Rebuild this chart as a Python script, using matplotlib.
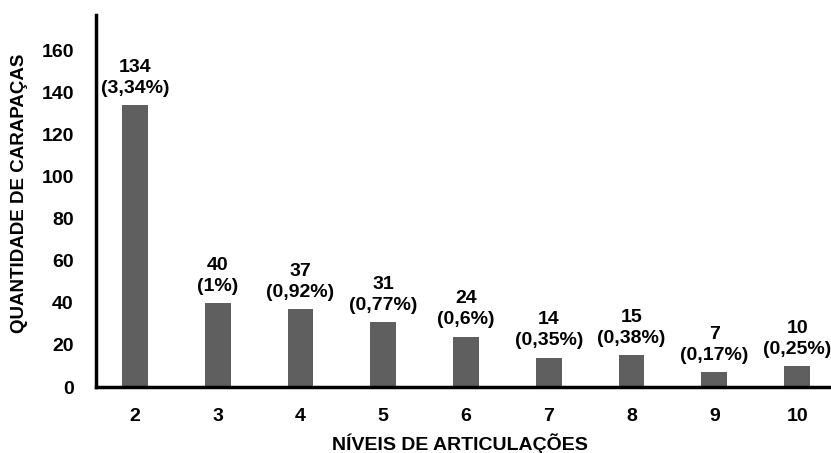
import matplotlib
matplotlib.use("Agg")
import matplotlib.pyplot as plt

niveis = [2, 3, 4, 5, 6, 7, 8, 9, 10]
quantidades = [134, 40, 37, 31, 24, 14, 15, 7, 10]
percentuais = ["3,34%", "1%", "0,92%", "0,77%", "0,6%", "0,35%", "0,38%", "0,17%", "0,25%"]
yticks = [0, 20, 40, 60, 80, 100, 120, 140, 160]

plt.rcParams["font.family"] = ["Liberation Sans", "DejaVu Sans"]
plt.rcParams["font.weight"] = "bold"

fig = plt.figure(figsize=(8.31, 4.53), dpi=100)
ax = fig.add_axes([96 / 831, 1 - 387 / 453, 1 - 96 / 831, (387 - 15) / 453])

ax.bar(niveis, quantidades, width=0.31, color="#5f5f5f", zorder=2)

for x, q, p in zip(niveis, quantidades, percentuais):
    ax.annotate(f"{q}\n({p})", xy=(x, q), xytext=(0, 6), textcoords="offset points",
                ha="center", va="bottom", fontsize=14, fontweight="bold",
                linespacing=1.3)

ax.set_xlim(1.53, 10.41)
ax.set_ylim(0, 177)
ax.set_xticks(niveis)
ax.set_xticklabels([str(n) for n in niveis])
ax.set_yticks(yticks)
ax.tick_params(axis="both", length=0, labelsize=14)
ax.tick_params(axis="y", pad=16)
ax.tick_params(axis="x", pad=15)
for lab in ax.get_xticklabels() + ax.get_yticklabels():
    lab.set_fontweight("bold")

for side in ("top", "right"):
    ax.spines[side].set_visible(False)
for side in ("left", "bottom"):
    ax.spines[side].set_linewidth(2.5)
    ax.spines[side].set_color("black")

ax.set_ylabel("QUANTIDADE DE CARAPAÇAS", fontsize=13.5, fontweight="bold")
ax.set_xlabel("NÍVEIS DE ARTICULAÇÕES", fontsize=14, fontweight="bold")
ax.yaxis.set_label_coords(-0.0925, 0.52)
ax.xaxis.set_label_coords(0.495, -0.124)

fig.savefig("out.png", dpi=100)
